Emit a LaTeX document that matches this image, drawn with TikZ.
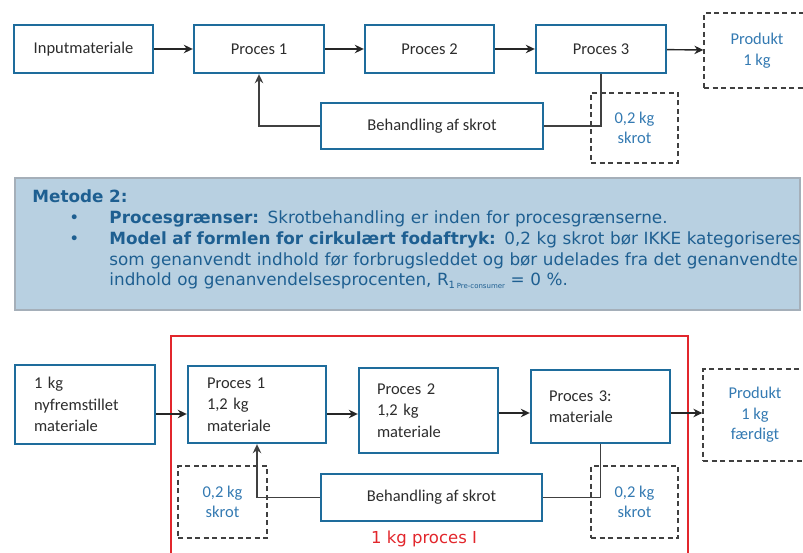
\documentclass[tikz,border=0pt]{standalone}
\usepackage{fontspec}
\usepackage{xcolor}
\usepackage{tikz}
\usetikzlibrary{arrows.meta}

\newfontfamily\kassefont{Carlito}
\newfontfamily\metodefont{DejaVu Sans}

\definecolor{kasseblaa}{RGB}{30,108,156}
\definecolor{skrotblaa}{RGB}{52,122,178}
\definecolor{metodefyld}{RGB}{184,208,225}
\definecolor{metodekant}{RGB}{165,175,185}
\definecolor{metodetekst}{RGB}{30,95,145}
\definecolor{rammerod}{RGB}{226,38,44}
\definecolor{tekstgraa}{RGB}{45,45,45}

\begin{document}
\begin{tikzpicture}[x=1pt, y=-1pt, >={Stealth[length=9pt, width=8.5pt]},
    proces/.style={draw=kasseblaa, line width=2.4pt, fill=white, text=tekstgraa,
      font=\kassefont\fontsize{16.5}{21.5}\selectfont, inner sep=0pt},
    skrot/.style={draw=black!75, line width=1.3pt, dash pattern=on 5pt off 3.5pt,
      text=skrotblaa, font=\kassefont\fontsize{16.5}{20.5}\selectfont, align=center, inner sep=0pt},
    flyt/.style={->, line width=1.4pt, black!85},
    linje/.style={line width=1.4pt, black!75}]
    \useasboundingbox (0,0) rectangle (803,553);
    \clip (0,0) rectangle (803,553);

    % Metode 1 -- oeverste flow
    \node[proces, minimum width=139pt, minimum height=48pt] (inp) at (83.5,49) {Inputmateriale};
    \node[proces, minimum width=130pt, minimum height=48pt] (p1) at (259,49) {Proces 1};
    \node[proces, minimum width=129pt, minimum height=48pt] (p2) at (429.5,49) {Proces 2};
    \node[proces, minimum width=130pt, minimum height=48pt] (p3) at (601,49) {Proces 3};
    \node[skrot, minimum width=106pt, minimum height=75pt] (prod) at (757,50.5) {Produkt\\1 kg};
    \node[proces, minimum width=222pt, minimum height=46pt] (beh) at (432,126) {Behandling af skrot};
    \node[skrot, minimum width=87pt, minimum height=70pt] (skrot) at (634.5,128) {0,2 kg\\skrot};

    \draw[flyt] (inp) -- (p1);
    \draw[flyt] (p1) -- (p2);
    \draw[flyt] (p2) -- (p3);
    \draw[flyt] (p3) -- (prod);
    \draw[linje] (p3.south) -- (p3.south |- beh.east) -- (beh.east);
    \draw[linje, ->] (beh.west) -| (p1.south);

    % Metode 2 -- tekstboks
    \node[draw=metodekant, fill=metodefyld, line width=1.5pt, minimum width=785pt,
      minimum height=132pt, inner sep=0pt] (metode) at (407.5,244) {};
    \node[anchor=north west, inner sep=0pt, text=metodetekst, text width=850pt, align=left,
      font=\metodefont\fontsize{16.8}{20.8}\selectfont] (metodetekst)
      at ([xshift=18pt, yshift=-12.5pt]metode.north west) {%
      \textbf{Metode 2:}\\
      \hspace*{37pt}\makebox[40pt][l]{•}\textbf{Procesgrænser:} Skrotbehandling er inden for procesgrænserne.\\
      \hspace*{37pt}\makebox[40pt][l]{•}\textbf{Model af formlen for cirkulært fodaftryk:} 0,2 kg skrot bør IKKE kategoriseres\\
      \hspace*{77pt}som genanvendt indhold før forbrugsleddet og bør udelades fra det genanvendte\\
      \hspace*{77pt}indhold og genanvendelsesprocenten, R\raisebox{-2.5pt}{\fontsize{10}{10}\selectfont 1\,\fontsize{7}{7}\selectfont Pre-consumer} = 0 \%.};

    % Nederste flow med procesramme
    \node[draw=rammerod, line width=2pt, minimum width=517pt, minimum height=234pt,
      inner sep=0pt] (ramme) at (429.5,453) {};
    \node[text=rammerod, font=\metodefont\fontsize{16.5}{20}\selectfont] (rammetekst) at (424,539) {1 kg proces I};

    \node[proces, minimum width=140pt, minimum height=79pt, text width=102pt, align=left] (ny) at (85,404.5) {1 kg\\nyfremstillet\\materiale};
    \node[proces, minimum width=138pt, minimum height=77pt, text width=100pt, align=left] (q1) at (257,404.5) {Proces 1\\1,2 kg\\materiale};
    \node[proces, minimum width=139pt, minimum height=85pt, text width=103pt, align=left] (q2) at (428.5,410.5) {Proces 2\\1,2 kg\\materiale};
    \node[proces, minimum width=139pt, minimum height=73pt, text width=103pt, align=left] (q3) at (600.5,406.5) {Proces 3:\\materiale};
    \node[skrot, minimum width=104pt, minimum height=92pt] (prod2) at (755,415) {Produkt\\1 kg\\færdigt};
    \node[skrot, minimum width=89pt, minimum height=72pt] (skrotv) at (222.5,502) {0,2 kg\\skrot};
    \node[skrot, minimum width=87pt, minimum height=72pt] (skroth) at (634.5,502) {0,2 kg\\skrot};
    \node[proces, minimum width=221pt, minimum height=47pt] (beh2) at (431.5,497.5) {Behandling af skrot};

    \draw[flyt] ([yshift=-9.5pt]ny.east) -- ([yshift=-9.5pt]q1.west);
    \draw[flyt] ([yshift=-9.5pt]q1.east) -- ([yshift=-9.5pt]q1.east -| q2.west);
    \draw[flyt] ([yshift=-2.5pt]q2.east) -- ([yshift=-2.5pt]q2.east -| q3.west);
    \draw[flyt] ([yshift=-6.5pt]q3.east) -- ([yshift=-6.5pt]q3.east -| prod2.west);
    \draw[linje] (q3.south) -- (q3.south |- beh2.east) -- (beh2.east);
    \draw[linje, ->] (beh2.west) -| (q1.south);
\end{tikzpicture}
\end{document}
